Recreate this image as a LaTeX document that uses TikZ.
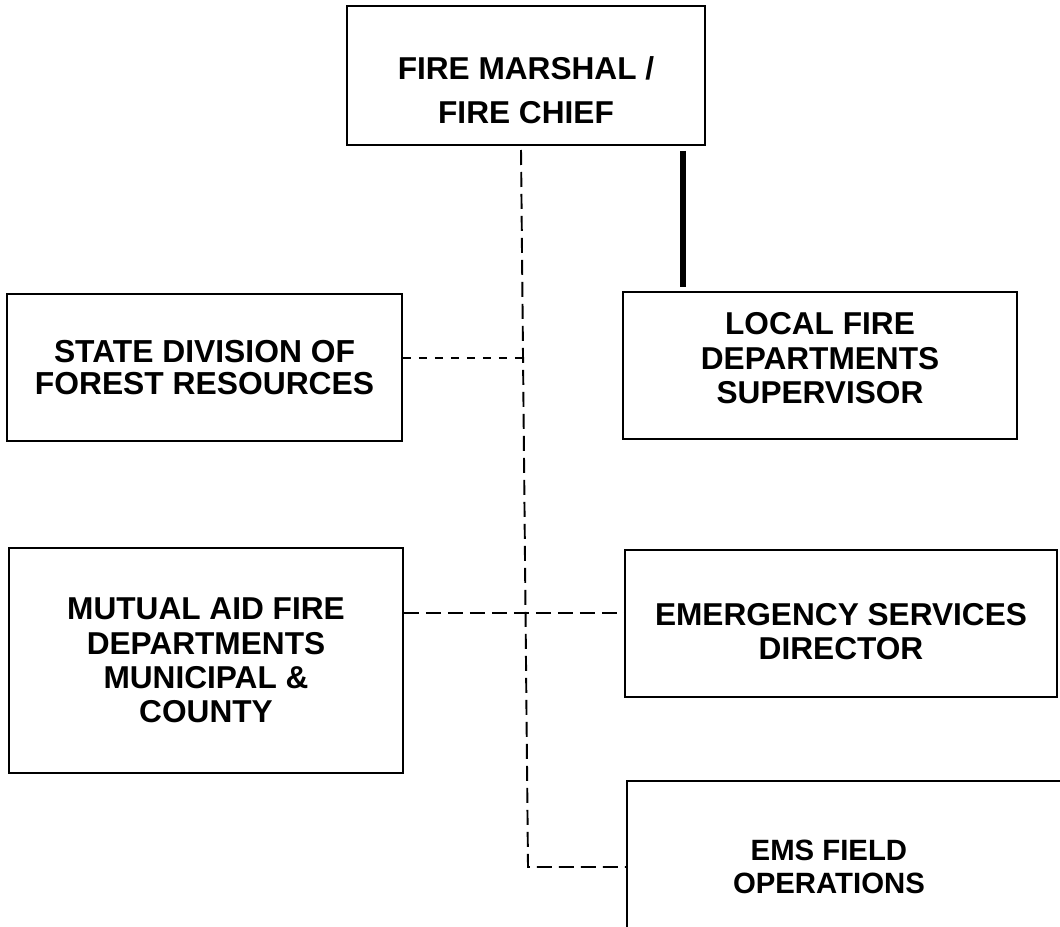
\documentclass[tikz,border=0pt]{standalone}
\usepackage{fontspec}
\setmainfont{Liberation Sans}
\usetikzlibrary{calc}

\begin{document}
\begin{tikzpicture}[x=0.02cm, y=-0.02cm,
    orgbox/.style={draw, line width=1.1pt, align=center, inner sep=0pt, font=\bfseries\fontsize{18}{19.5}\selectfont},
    longdash/.style={line width=1.1pt, dash pattern=on 0.3cm off 0.14cm},
    shortdash/.style={line width=1pt, dash pattern=on 0.16cm off 0.16cm},
    solidlink/.style={line width=3.2pt}]
    % page frame
    \path[use as bounding box, clip] (0,0) rectangle (1060,926);

    % top box
    \node[orgbox, font=\bfseries\fontsize{18}{25}\selectfont, minimum width=7.16cm, minimum height=2.78cm] (marshal) at (526,75.5) {\rule{0pt}{1.03cm}FIRE MARSHAL /\\FIRE CHIEF};

    % left column
    \node[orgbox, font=\bfseries\fontsize{18.1}{18.2}\selectfont, minimum width=7.9cm, minimum height=2.94cm] (state) at (204.5,367.5) {STATE DIVISION OF\\FOREST RESOURCES};
    \node[orgbox, minimum width=7.88cm, minimum height=4.5cm] (mutual) at (206,660.5) {MUTUAL AID FIRE\\DEPARTMENTS\\MUNICIPAL \&\\COUNTY};

    % right column
    \node[orgbox, minimum width=7.88cm, minimum height=2.94cm] (local) at (820,365.5) {LOCAL FIRE\\DEPARTMENTS\\SUPERVISOR\rule[-0.3cm]{0pt}{0pt}};
    \node[orgbox, minimum width=8.64cm, minimum height=2.94cm] (emergency) at (841,623.5) {\rule{0pt}{0.76cm}EMERGENCY SERVICES\\DIRECTOR};
    \node[orgbox, anchor=north west, minimum width=9.6cm, minimum height=4.4cm,
        label={[align=center, font=\bfseries\fontsize{16.7}{19}\selectfont, xshift=-0.76cm, yshift=0.48cm]center:EMS FIELD\\OPERATIONS}] (ems) at (626,780) {};

    % helper points
    \coordinate (vtop) at (521,150);
    \coordinate (vmid) at (523,358);
    \coordinate (vbot) at (528,867);
    \coordinate (link) at (0,613);
    \coordinate (thickx) at (683,0);

    % solid line to local departments
    \draw[solidlink, shorten <=0.1cm, shorten >=0.08cm] (marshal.south -| thickx) -- (local.north -| thickx);

    % dashed lines
    \draw[longdash] (vtop) -- (vbot) -- (ems.west |- vbot);
    \draw[shortdash] (state.east |- vmid) -- (vmid);
    \draw[longdash] (mutual.east |- link) -- (emergency.west |- link);

\end{tikzpicture}
\end{document}
